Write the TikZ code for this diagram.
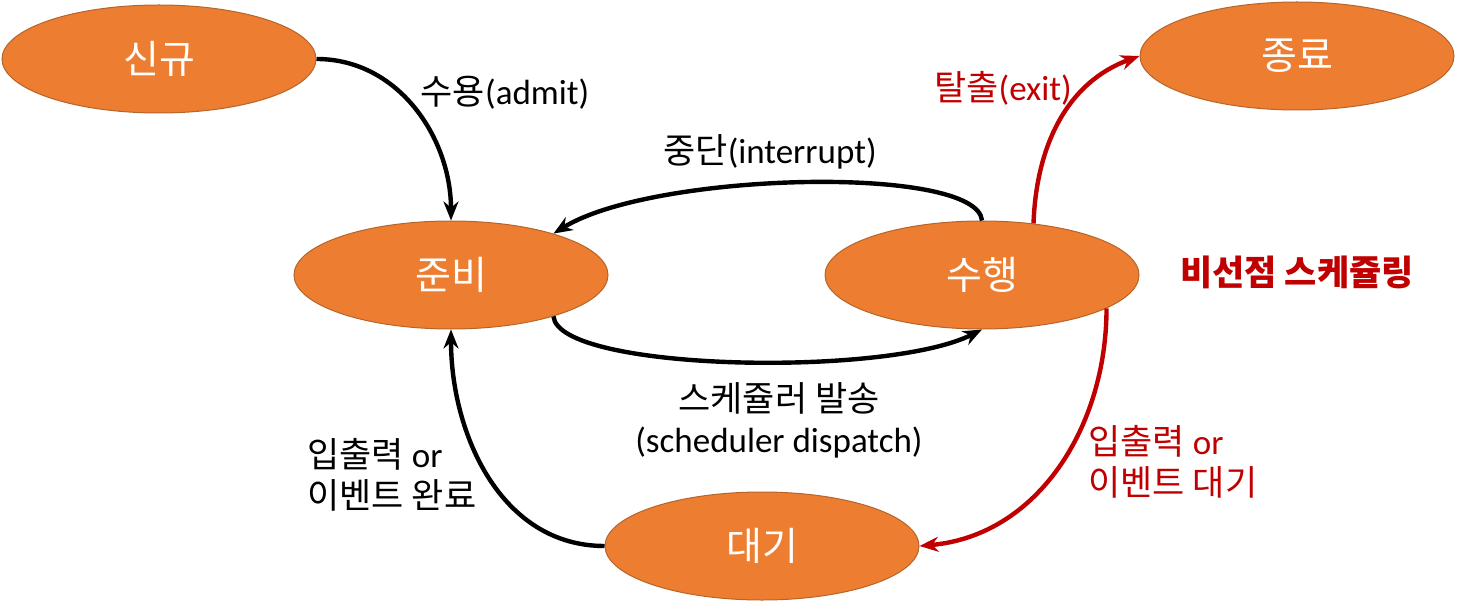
\documentclass[tikz,border=0pt]{standalone}
\usepackage{fontspec}
\setmainfont{Noto Sans CJK KR}
\newfontfamily\latin{Carlito}
\usetikzlibrary{shapes.geometric,arrows.meta}

\definecolor{procorange}{HTML}{ED7D31}
\definecolor{procedge}{HTML}{B5652A}
\definecolor{procred}{HTML}{C00000}

\tikzset{
  state/.style = {ellipse, fill = procorange, draw = procedge, line width = 0.5pt,
    minimum width = 157pt, minimum height = 54pt, inner sep = 0pt,
    text = white, font = \fontsize{19.5}{22}\selectfont},
  trans/.style = {line width = 2.2pt, -{Stealth[length = 9.5pt, width = 7.5pt]}},
  edgelabel/.style = {inner sep = 0pt, font = \fontsize{17.5}{20.5}\selectfont},
}

\begin{document}
\begin{tikzpicture}[x = 0.5pt, y = -0.5pt]
        \useasboundingbox (0,0) rectangle (1460,604);

        \node[state] (singyu) at (159,59) {신규};
        \node[state] (jongryo) at (1297,56) {종료};
        \node[state] (junbi) at (451,275) {준비};
        \node[state] (suhaeng) at (982,275) {수행};
        \node[state] (daegi) at (762,546) {대기};

        \draw[trans] (singyu.east) to[out = 0, in = 90] (junbi.north);
        \draw[trans] (suhaeng.north) .. controls +(-5,-56) and +(100,-62) .. (junbi.22);
        \draw[trans] (junbi.-22) .. controls +(5,55) and +(-95,48) .. (suhaeng.south);
        \draw[trans] (daegi.west) to[out = 180, in = -90] (junbi.south);
        \draw[trans, procred] (suhaeng.45) to[out = 88, in = 200] (jongryo.west);
        \draw[trans, procred] (suhaeng.-15) to[out = -90, in = 5] (daegi.east);

        \node[edgelabel] (admit) at (505,93) {수용{\latin(admit)}};
        \node[edgelabel] (interrupt) at (770,152) {중단{\latin(interrupt)}};
        \node[edgelabel, align = center] (dispatch) at (779,420)
            {스케쥴러 발송\\{\latin(scheduler dispatch)}};
        \node[edgelabel, align = left, anchor = west] (iodone) at (307,475)
            {입출력 {\latin or}\\이벤트 완료};
        \node[edgelabel, text = procred] (exit) at (1003,88) {탈출{\latin(exit)}};
        \node[edgelabel, text = procred, align = left, anchor = west] (iowait) at (1088,462)
            {입출력 {\latin or}\\이벤트 대기};
        \node[edgelabel, text = procred, font = \bfseries\fontsize{17.5}{20.5}\selectfont]
            (nonpreempt) at (1297,272) {비선점 스케쥴링};
    \end{tikzpicture}
\end{document}
